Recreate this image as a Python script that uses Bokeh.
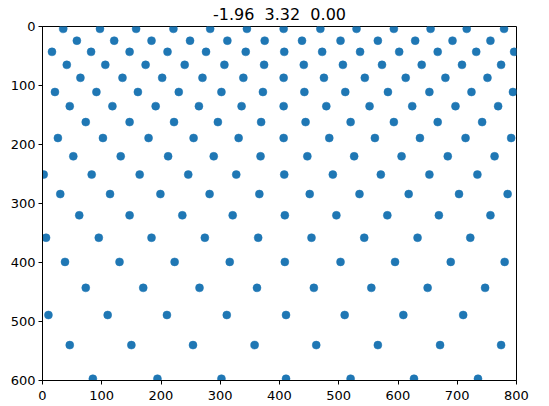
from bokeh.plotting import figure
from bokeh.models import Range1d, FixedTicker
from bokeh.embed import file_html
from bokeh.resources import INLINE

title_text = "-1.96\u00a0 3.32\u00a0 0.00"

# y value of each row of points (data units, axis inverted)
row_y = [4, 24, 43, 65, 87, 111, 135, 162, 189, 220, 251, 284, 320, 358, 399, 443, 489, 540, 597]

# x values of the points in each row
row01 = [35, 97, 158, 221, 283, 345, 407, 469, 530, 593, 655, 716, 779]
row02 = [58, 121, 184, 249, 312, 375, 438, 503, 566, 629, 692, 756]
row03 = [16, 82, 147, 211, 276, 343, 408, 472, 536, 602, 667, 732, 796]
row04 = [41, 106, 174, 240, 307, 374, 441, 507, 573, 640, 708, 774]
row05 = [64, 135, 202, 270, 339, 407, 475, 544, 613, 680, 751]
row06 = [21, 91, 161, 230, 302, 372, 442, 511, 583, 653, 724, 794]
row07 = [46, 118, 191, 264, 336, 407, 479, 552, 624, 697, 769]
row08 = [73, 147, 222, 296, 369, 444, 520, 593, 667, 742]
row09 = [26, 102, 179, 255, 331, 407, 484, 561, 637, 714, 791]
row10 = [52, 132, 212, 289, 368, 447, 526, 606, 684, 763]
row11 = [2, 83, 164, 246, 327, 408, 490, 571, 653, 734]
row12 = [30, 114, 199, 282, 366, 451, 535, 618, 703, 785]
row13 = [62, 147, 236, 321, 409, 496, 582, 669, 756]
row14 = [6, 95, 184, 274, 364, 454, 543, 633, 722]
row15 = [38, 130, 223, 316, 409, 503, 595, 689, 780]
row16 = [73, 170, 265, 362, 458, 555, 650, 747]
row17 = [10, 110, 210, 311, 411, 510, 609, 710]
row18 = [46, 150, 254, 358, 462, 566, 671, 774]
row19 = [85, 194, 302, 411, 520, 627, 735]

rows_x = [row01, row02, row03, row04, row05, row06, row07, row08, row09, row10,
          row11, row12, row13, row14, row15, row16, row17, row18, row19]

x_ticks = [0, 100, 200, 300, 400, 500, 600, 700, 800]
y_ticks = [0, 100, 200, 300, 400, 500, 600]

xs, ys = [], []
for yv, rx in zip(row_y, rows_x):
    for xv in rx:
        xs.append(xv)
        ys.append(yv)

FONT = "DejaVu Sans"

p = figure(frame_width=474, frame_height=354,
           x_range=Range1d(0, 800), y_range=Range1d(600, 0),
           output_backend="svg", toolbar_location=None,
           min_border_left=42, min_border_right=25,
           min_border_top=25, min_border_bottom=20,
           title=title_text)

p.title.text_font = FONT
p.title.text_font_size = "16px"
p.title.text_font_style = "normal"
p.title.align = "center"
p.title.standoff = 5
p.title.text_color = "black"

p.scatter(xs, ys, size=8, fill_color="#1f77b4", line_color="#1f77b4", line_width=0.5)

p.xgrid.visible = False
p.ygrid.visible = False
p.outline_line_color = "black"
p.outline_line_width = 1
p.background_fill_color = "white"
p.border_fill_color = "white"

for ax, ticks, standoff in ((p.xaxis[0], x_ticks, 6), (p.yaxis[0], y_ticks, 3)):
    ax.ticker = FixedTicker(ticks=ticks)
    ax.major_tick_out = 4
    ax.major_tick_in = 0
    ax.minor_tick_out = 0
    ax.minor_tick_in = 0
    ax.axis_line_color = "black"
    ax.major_tick_line_color = "black"
    ax.major_label_text_font = FONT
    ax.major_label_text_font_size = "13px"
    ax.major_label_text_color = "black"
    ax.major_label_standoff = standoff

open("out.html", "w").write(file_html(p, INLINE))
